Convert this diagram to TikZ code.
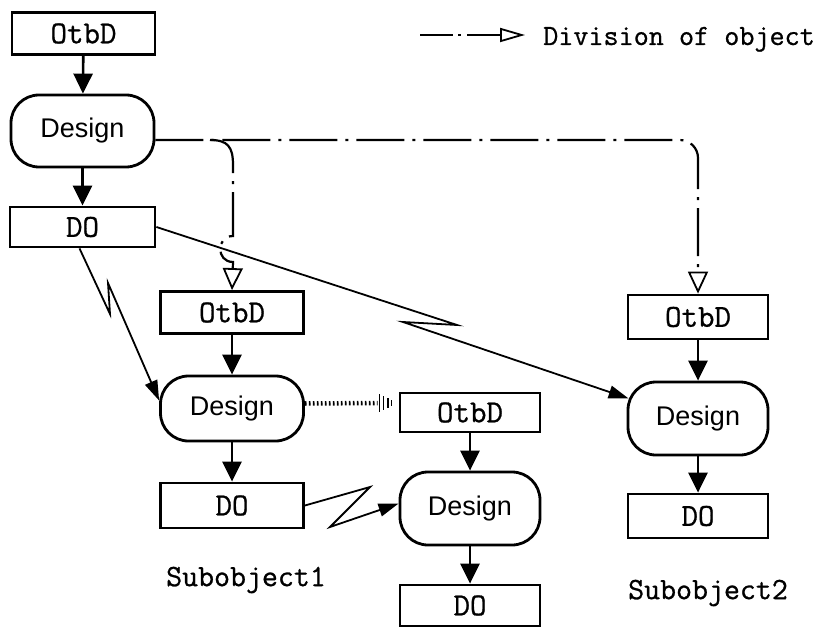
\documentclass[tikz,border=0pt]{standalone}
\usepackage{fontspec}
\newfontfamily\labelmono[FakeBold=0.8]{Latin Modern Mono}
\newfontfamily\labelsans{Liberation Sans}
\usetikzlibrary{arrows.meta,calc}

\begin{document}
\begin{tikzpicture}[x=1pt,y=-1pt,
  box/.style={draw, line width=2.8pt, inner sep=0pt, minimum width=143pt,
    minimum height=42pt, font=\labelmono\fontsize{32}{32}\selectfont},
  design/.style={draw, line width=2.8pt, rounded corners=28pt, inner sep=0pt,
    minimum width=143pt, minimum height=72pt,
    font=\labelsans\fontsize{27}{27}\selectfont},
  caption/.style={inner sep=0pt, font=\labelmono\fontsize{31}{31}\selectfont},
  flow/.style={line width=2.6pt, -{Triangle[length=20pt,width=19pt]}},
  jump/.style={line width=1.8pt, line join=miter, -{Triangle[length=20pt,width=13pt]}},
  divide/.style={line width=2.2pt, dash pattern=on 48pt off 8pt on 3pt off 8pt,
    -{Triangle[open,length=22pt,width=20pt,line width=1.8pt]}},
  link/.style={line width=4.5pt, dash pattern=on 1.6pt off 2.4pt},
  bar/.style={line width=1.6pt},
]
\useasboundingbox (0,0) rectangle (818,628);

% main object
\node[box]    (o1)  at (83.5,33.5)  {OtbD};
\node[design] (d1)  at (82.5,131)   {Design};
\node[box, minimum width=145pt, minimum height=40pt] (do1) at (82.5,227) {DO};

% subobject 1
\node[box]    (o2)  at (232,312.5)  {OtbD};
\node[design, minimum height=65pt] (d2) at (232,408.5) {Design};
\node[box, minimum height=45pt] (do2) at (232,505.5) {DO};
\node[caption] (s1) at (246,580) {Subobject1};

% subobject of subobject 1
\node[box, minimum width=140pt, minimum height=39pt] (o3) at (470,412.5) {OtbD};
\node[design, minimum width=140pt, minimum height=73pt] (d3) at (470,508.5) {Design};
\node[box, minimum width=140pt, minimum height=41pt] (do3) at (470,605.5) {DO};

% subobject 2
\node[box, minimum width=140pt, minimum height=44pt] (o4) at (698,317) {OtbD};
\node[design, minimum width=140pt, minimum height=73pt] (d4) at (698,418.5) {Design};
\node[box, minimum width=140pt, minimum height=44pt] (do4) at (698,516) {DO};
\node[caption] (s2) at (708,593) {Subobject2};

% legend
\node[anchor=base west, inner sep=0pt, font=\labelmono\fontsize{29.3}{29.3}\selectfont]
  (legtxt) at (543,45) {Division of object};
\coordinate (legA) at (420,35);
\coordinate (legB) at (525,35);
\draw[line width=2pt, dash pattern=on 33pt off 5pt on 3pt off 6pt,
  -{Triangle[open,length=25pt,width=14pt,line width=1.8pt]}] (legA) -- (legB);

% design flow inside each object
\draw[flow] (o1) -- (d1);
\draw[flow] (d1) -- (do1);
\draw[flow] (o2) -- (d2);
\draw[flow] (d2) -- (do2);
\draw[flow] (o3) -- (d3);
\draw[flow] (d3) -- (do3);
\draw[flow] (o4) -- (d4);
\draw[flow] (d4) -- (do4);

% division of the main object into subobjects
\coordinate (split) at ($(d1.east)+(0,9)$);
\draw[divide, rounded corners=18pt] (split) -| (o4.north);
\coordinate (fork) at (210,140);
\draw[divide] (fork) .. controls (228,140) and (233,147) .. (233,165)
  -- (233,236) .. controls (216,236) and (216,262) .. (233,262)
  -- (o2.north);

% results handed on to the subobjects
\draw[jump] (do1.east) -- (457,325) -- (403,322) -- ($(d4.west)+(2,-20)$);
\draw[jump] ($(do1.south)+(-3,0)$) -- (110,314) -- (108,283) -- ($(d2.west)+(0,-8)$);
\draw[jump] (do2.east) -- (370,487) -- (330,527) -- ($(d3.west)+(0,-5)$);

% link between subobject 1 and its own subobject
\coordinate (linkend) at ($(o3.west)+(-21,-9.5)$);
\draw[link] ($(d2.east)+(0,-5)$) -- (linkend);
\begin{scope}[shift={(linkend)}]
  \draw[bar] (2,-9) -- (2,9);
  \draw[bar] (6,-7) -- (6,7);
  \draw[bar] (10.5,-5) -- (10.5,5);
  \draw[bar] (14,-3) -- (14,3);
\end{scope}
\end{tikzpicture}
\end{document}
